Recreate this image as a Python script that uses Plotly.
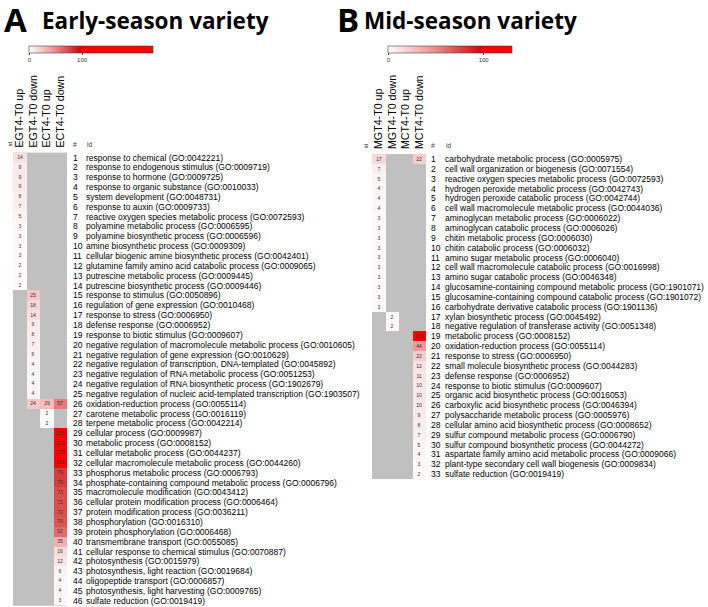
import plotly.graph_objects as go

# ---------------- data ----------------
cols_a = ["EGT4-T0 up", "EGT4-T0 down", "ECT4-T0 up", "ECT4-T0 down"]
terms_a = [
    "response to chemical (GO:0042221)",
    "response to endogenous stimulus (GO:0009719)",
    "response to hormone (GO:0009725)",
    "response to organic substance (GO:0010033)",
    "system development (GO:0048731)",
    "response to auxin (GO:0009733)",
    "reactive oxygen species metabolic process (GO:0072593)",
    "polyamine metabolic process (GO:0006595)",
    "polyamine biosynthetic process (GO:0006596)",
    "amine biosynthetic process (GO:0009309)",
    "cellular biogenic amine biosynthetic process (GO:0042401)",
    "glutamine family amino acid catabolic process (GO:0009065)",
    "putrescine metabolic process (GO:0009445)",
    "putrescine biosynthetic process (GO:0009446)",
    "response to stimulus (GO:0050896)",
    "regulation of gene expression (GO:0010468)",
    "response to stress (GO:0006950)",
    "defense response (GO:0006952)",
    "response to biotic stimulus (GO:0009607)",
    "negative regulation of macromolecule metabolic process (GO:0010605)",
    "negative regulation of gene expression (GO:0010629)",
    "negative regulation of transcription, DNA-templated (GO:0045892)",
    "negative regulation of RNA metabolic process (GO:0051253)",
    "negative regulation of RNA biosynthetic process (GO:1902679)",
    "negative regulation of nucleic acid-templated transcription (GO:1903507)",
    "oxidation-reduction process (GO:0055114)",
    "carotene metabolic process (GO:0016119)",
    "terpene metabolic process (GO:0042214)",
    "cellular process (GO:0009987)",
    "metabolic process (GO:0008152)",
    "cellular metabolic process (GO:0044237)",
    "cellular macromolecule metabolic process (GO:0044260)",
    "phosphorus metabolic process (GO:0006793)",
    "phosphate-containing compound metabolic process (GO:0006796)",
    "macromolecule modification (GO:0043412)",
    "cellular protein modification process (GO:0006464)",
    "protein modification process (GO:0036211)",
    "phosphorylation (GO:0016310)",
    "protein phosphorylation (GO:0006468)",
    "transmembrane transport (GO:0055085)",
    "cellular response to chemical stimulus (GO:0070887)",
    "photosynthesis (GO:0015979)",
    "photosynthesis, light reaction (GO:0019684)",
    "oligopeptide transport (GO:0006857)",
    "photosynthesis, light harvesting (GO:0009765)",
    "sulfate reduction (GO:0019419)",
]
N = None
egt4_up = [14, 9, 9, 9, 8, 7, 5, 3, 3, 3, 3, 2, 2, 2] + [N] * 32
egt4_down = [N] * 14 + [25, 18, 14, 9, 8, 7, 6, 4, 4, 4, 4, 24] + [N] * 20
ect4_up = [N] * 25 + [29, 2, 2] + [N] * 18
ect4_down = [N] * 25 + [57, N, N, 235, 229, 176, 118, 79, 79, 73, 72, 72, 70, 62,
                        35, 16, 12, 6, 4, 4, 3]

cols_b = ["MGT4-T0 up", "MGT4-T0 down", "MCT4-T0 up", "MCT4-T0 down"]
terms_b = [
    "carbohydrate metabolic process (GO:0005975)",
    "cell wall organization or biogenesis (GO:0071554)",
    "reactive oxygen species metabolic process (GO:0072593)",
    "hydrogen peroxide metabolic process (GO:0042743)",
    "hydrogen peroxide catabolic process (GO:0042744)",
    "cell wall macromolecule metabolic process (GO:0044036)",
    "aminoglycan metabolic process (GO:0006022)",
    "aminoglycan catabolic process (GO:0006026)",
    "chitin metabolic process (GO:0006030)",
    "chitin catabolic process (GO:0006032)",
    "amino sugar metabolic process (GO:0006040)",
    "cell wall macromolecule catabolic process (GO:0016998)",
    "amino sugar catabolic process (GO:0046348)",
    "glucosamine-containing compound metabolic process (GO:1901071)",
    "glucosamine-containing compound catabolic process (GO:1901072)",
    "carbohydrate derivative catabolic process (GO:1901136)",
    "xylan biosynthetic process (GO:0045492)",
    "negative regulation of transferase activity (GO:0051348)",
    "metabolic process (GO:0008152)",
    "oxidation-reduction process (GO:0055114)",
    "response to stress (GO:0006950)",
    "small molecule biosynthetic process (GO:0044283)",
    "defense response (GO:0006952)",
    "response to biotic stimulus (GO:0009607)",
    "organic acid biosynthetic process (GO:0016053)",
    "carboxylic acid biosynthetic process (GO:0046394)",
    "polysaccharide metabolic process (GO:0005976)",
    "cellular amino acid biosynthetic process (GO:0008652)",
    "sulfur compound metabolic process (GO:0006790)",
    "sulfur compound biosynthetic process (GO:0044272)",
    "aspartate family amino acid metabolic process (GO:0009066)",
    "plant-type secondary cell wall biogenesis (GO:0009834)",
    "sulfate reduction (GO:0019419)",
]
mgt4_up = [17, 7, 5, 4, 4, 4, 3, 3, 3, 3, 3, 3, 3, 3, 3, 3] + [N] * 17
mgt4_down = [N] * 16 + [2, 2] + [N] * 15
mct4_up = [N] * 33
mct4_down = [22] + [N] * 17 + [130, 44, 22, 12, 11, 10, 10, 10, 9, 8, 7, 5, 4, 3, 2]

colorbar_ticks = [0, 100]

# ---------------- layout helpers ----------------
W, H = 708, 607
FONT = "Liberation Sans, Arial, sans-serif"


def fx(px):
    return px / W


def fy(px):
    return 1 - px / H


def scale(vmax):
    s = 100 / vmax
    return [[0, "rgb(255,255,255)"], [s * 0.5, "rgb(236,140,140)"],
            [s * 0.97, "rgb(205,10,10)"], [s, "rgb(255,0,0)"], [1, "rgb(255,0,0)"]]


def matrix(*cols):
    return [list(r) for r in zip(*cols)]


za = matrix(egt4_up, egt4_down, ect4_up, ect4_down)
zb = matrix(mgt4_up, mgt4_down, mct4_up, mct4_down)
ya = list(range(1, len(terms_a) + 1))
yb = list(range(1, len(terms_b) + 1))
vmax_a = max(v for r in za for v in r if v is not None)
vmax_b = max(v for r in zb for v in r if v is not None)

fig = go.Figure()
fig.add_trace(go.Heatmap(z=za, x=[0, 1, 2, 3], y=ya, coloraxis="coloraxis",
                         texttemplate="%{z}", textfont=dict(size=5, color="#333", family=FONT),
                         hoverongaps=False, xaxis="x", yaxis="y"))
fig.add_trace(go.Heatmap(z=zb, x=[0, 1, 2, 3], y=yb, coloraxis="coloraxis2",
                         texttemplate="%{z}", textfont=dict(size=5, color="#333", family=FONT),
                         hoverongaps=False, xaxis="x2", yaxis="y2"))

ax_common = dict(showgrid=False, zeroline=False, showline=False, ticks="")
top_a, bot_a = 152.6, 605.7
top_b, bot_b = 154.1, 479.1

fig.update_layout(
    width=W, height=H, margin=dict(l=0, r=0, t=0, b=0),
    paper_bgcolor="white", plot_bgcolor="#c0c0c0", showlegend=False,
    xaxis=dict(domain=[fx(13), fx(67)], range=[-0.5, 3.5], side="top",
               tickvals=[0, 1, 2, 3], ticktext=cols_a, tickangle=-90, ticklabelstandoff=4,
               tickfont=dict(size=10.7, family=FONT, color="black"), anchor="y", **ax_common),
    yaxis=dict(domain=[fy(bot_a), fy(top_a)], range=[len(terms_a) + 0.5, 0.5],
               showticklabels=False, anchor="x", **ax_common),
    xaxis2=dict(domain=[fx(372), fx(426)], range=[-0.5, 3.5], side="top",
                tickvals=[0, 1, 2, 3], ticktext=cols_b, tickangle=-90, ticklabelstandoff=4,
                tickfont=dict(size=10.7, family=FONT, color="black"), anchor="y2", **ax_common),
    yaxis2=dict(domain=[fy(bot_b), fy(top_b)], range=[len(terms_b) + 0.5, 0.5],
                showticklabels=False, anchor="x2", **ax_common),
    coloraxis=dict(colorscale=scale(vmax_a), cmin=0, cmax=vmax_a,
                   colorbar=dict(orientation="h", x=fx(29.3), xanchor="left", y=fy(46), yanchor="top",
                                 len=124, lenmode="pixels", thickness=7, thicknessmode="pixels",
                                 xpad=0, ypad=0, tickvals=colorbar_ticks, ticks="outside", ticklen=2,
                                 tickfont=dict(size=6, family=FONT, color="#333"),
                                 outlinewidth=0.6, outlinecolor="#444")),
    coloraxis2=dict(colorscale=scale(vmax_b), cmin=0, cmax=vmax_b,
                    colorbar=dict(orientation="h", x=fx(388.3), xanchor="left", y=fy(46), yanchor="top",
                                  len=124, lenmode="pixels", thickness=7, thicknessmode="pixels",
                                  xpad=0, ypad=0, tickvals=colorbar_ticks, ticks="outside", ticklen=2,
                                  tickfont=dict(size=6, family=FONT, color="#333"),
                                  outlinewidth=0.6, outlinecolor="#444")),
)

ann = []
# panel titles
ann.append(dict(text="<b>A</b>", x=fx(1.5), y=fy(19), xanchor="left", yanchor="middle",
                font=dict(size=33, family="Open Sans", color="black")))
ann.append(dict(text="<b>Early-season variety</b>", x=fx(40), y=fy(21), xanchor="left", yanchor="middle",
                font=dict(size=22.5, family="Open Sans", color="black")))
ann.append(dict(text="<b>B</b>", x=fx(335), y=fy(19), xanchor="left", yanchor="middle",
                font=dict(size=33, family="Open Sans", color="black")))
ann.append(dict(text="<b>Mid-season variety</b>", x=fx(362), y=fy(21), xanchor="left", yanchor="middle",
                font=dict(size=22.5, family="Open Sans", color="black")))

LBL = 8.5
for (terms, yref, xnum, xlab, xid, top) in [(terms_a, "y", 70.5, 84, 9.5, top_a),
                                            (terms_b, "y2", 428.5, 443, 366, top_b)]:
    for i, t in enumerate(terms, start=1):
        ann.append(dict(text=str(i), x=fx(xnum), y=i, xref="paper", yref=yref, xanchor="left",
                        yanchor="middle", showarrow=False, font=dict(size=LBL, family=FONT, color="black")))
        ann.append(dict(text=t, x=fx(xlab), y=i, xref="paper", yref=yref, xanchor="left",
                        yanchor="middle", showarrow=False, font=dict(size=LBL, family=FONT, color="black")))
    ann.append(dict(text="#", x=fx(xnum), y=fy(top - 3), xanchor="left", yanchor="bottom",
                    font=dict(size=6.5, family=FONT, color="#333")))
    ann.append(dict(text="id", x=fx(xlab + 1), y=fy(top - 3), xanchor="left", yanchor="bottom",
                    font=dict(size=6.5, family=FONT, color="#333")))
    ann.append(dict(text="id", x=fx(xid), y=fy(top - 4), xanchor="center", yanchor="bottom",
                    textangle=-90, font=dict(size=5.5, family=FONT, color="#333")))

for a in ann:
    a.setdefault("xref", "paper")
    a.setdefault("yref", "paper")
    a.setdefault("showarrow", False)
fig.update_layout(annotations=ann)

fig.write_html("out.html", config={"displayModeBar": False},
               post_script="document.body.style.margin='0';document.body.style.overflow='hidden';")
